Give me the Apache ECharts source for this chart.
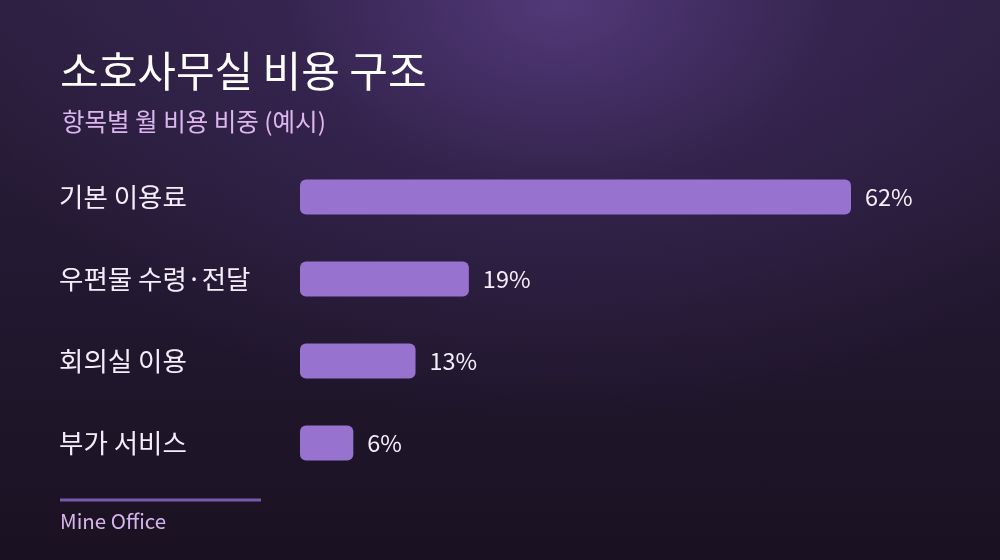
<!DOCTYPE html>
<html>
<head>
<meta charset="utf-8">
<script src="https://cdn.jsdelivr.net/npm/echarts@6/dist/echarts.min.js"></script>
<style>
html,body{margin:0;padding:0;width:1000px;height:560px;overflow:hidden;}
#c{width:1000px;height:560px;
background:
radial-gradient(ellipse 620px 420px at 560px 0px, rgba(84,58,124,0.95) 0%, rgba(60,40,90,0.6) 45%, rgba(30,20,42,0) 100%),
linear-gradient(180deg,#2c1f3f 0%,#221830 50%,#1a1222 100%);}
</style>
</head>
<body>
<div id="c"></div>
<script>
const categories = ['기본 이용료', '우편물 수령·전달', '회의실 이용', '부가 서비스'];
const values = [62, 19, 13, 6];
const titleText = '소호사무실 비용 구조';
const subtitleText = '항목별 월 비용 비중 (예시)';
const footerText = 'Mine Office';

const FONT = "'Noto Sans CJK KR','Noto Sans',sans-serif";
const chart = echarts.init(document.getElementById('c'));
chart.setOption({
  backgroundColor: 'transparent',
  animation: false,
  title: [
    {text: titleText, left: 55, top: 45,
     textStyle: {color: '#ffffff', fontSize: 42, fontWeight: 400, fontFamily: FONT}},
    {text: subtitleText, left: 57, top: 104,
     textStyle: {color: '#dcb6ee', fontSize: 24.5, fontWeight: 400, fontFamily: FONT}}
  ],
  grid: {left: 300, right: 149, top: 156, bottom: 76, containLabel: false},
  xAxis: {type: 'value', min: 0, max: 62, show: false},
  yAxis: {
    type: 'category', data: categories, inverse: true,
    axisLine: {show: false}, axisTick: {show: false}, splitLine: {show: false},
    axisLabel: {align: 'left', margin: 241, color: '#f4eefa', fontSize: 26.5,
      fontFamily: FONT, padding: [0, 0, 7, 0]}
  },
  series: [{
    type: 'bar', data: values, barWidth: 35,
    itemStyle: {color: '#9872cf', borderRadius: 6},
    label: {show: true, position: 'right', distance: 14, formatter: '{c}%',
      color: '#f4eefa', fontSize: 23.5, fontFamily: FONT}
  }],
  graphic: [
    {type: 'rect', shape: {x: 60, y: 498.5, width: 201, height: 3},
     style: {fill: '#7a58aa'}},
    {type: 'text', left: 60, top: 511,
     style: {text: footerText, fill: '#d8b4ec', fontSize: 20.5, fontFamily: FONT}}
  ]
});
</script>
</body>
</html>
